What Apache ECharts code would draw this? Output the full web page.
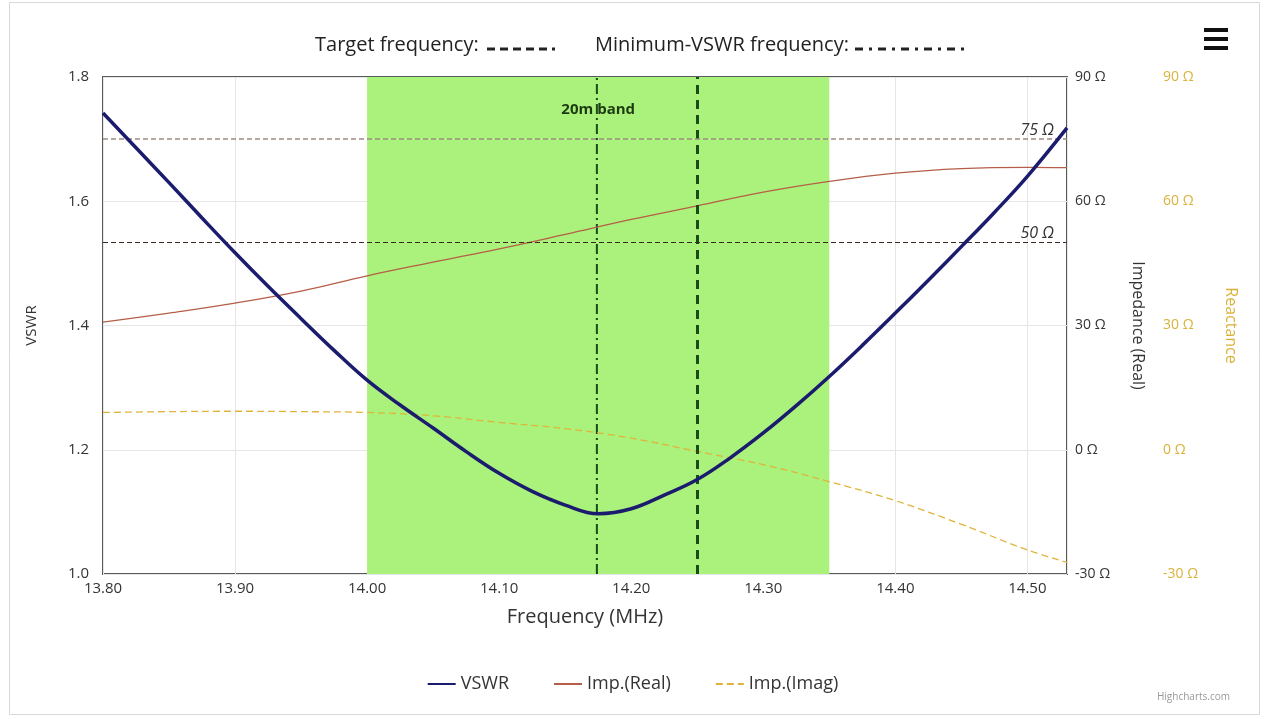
<!DOCTYPE html>
<html><head><meta charset="utf-8">
<script src="https://cdn.jsdelivr.net/npm/echarts@6/dist/echarts.min.js"></script>
<style>html,body{margin:0;padding:0;background:#fff}#c{width:1265px;height:719px}</style>
</head><body><div id="c"></div>
<script>
const freq = [13.80,13.85,13.90,13.95,14.00,14.05,14.10,14.15,14.20,14.25,14.30,14.35,14.40,14.45,14.50,14.53];
const impReal = [30.8,33.0,35.4,38.3,42.0,45.3,48.5,52.0,55.6,58.9,62.2,64.8,66.8,67.9,68.2,68.1];
const impImag = [9.0,9.2,9.3,9.2,9.0,8.2,6.6,5.1,2.8,-0.4,-3.6,-7.7,-12.3,-18.0,-24.2,-27.2];
const vswrFreq = [13.80,13.825,13.85,13.875,13.90,13.925,13.95,13.975,14.00,14.025,14.05,14.075,14.10,14.125,14.15,14.175,14.20,14.225,14.25,14.275,14.30,14.325,14.35,14.375,14.40,14.425,14.45,14.475,14.50,14.53];
const vswr = [1.742,1.686,1.630,1.573,1.517,1.463,1.411,1.360,1.312,1.272,1.235,1.197,1.162,1.133,1.111,1.097,1.105,1.127,1.152,1.187,1.227,1.271,1.318,1.368,1.420,1.473,1.527,1.582,1.640,1.718];
const bandRange = [14.00, 14.35];
const targetFreq = 14.25;
const minVswrFreq = 14.174;
const refImpedances = [75, 50];
const vswrTicks = [1.0, 1.8, 0.2];
const ohmTicks = [-30, 90, 30];

const FONT = 'Open Sans';
const pair = (xs, ys) => xs.map((x, i) => [x, ys[i]]);
const chart = echarts.init(document.getElementById('c'), null, {renderer: 'canvas'});
const ohm = v => v + ' Ω';

chart.setOption({
  animation: false,
  textStyle: {fontFamily: FONT},
  grid: {left: 103, right: 198, top: 77, bottom: 145, show: true, borderColor: '#5a5a5a', borderWidth: 2, backgroundColor: 'transparent'},
  legend: {
    bottom: 21, left: 'center', itemWidth: 28, itemHeight: 10, itemGap: 44,
    itemStyle: {opacity: 0},
    textStyle: {fontSize: 18, color: '#333', fontFamily: FONT},
    data: ['VSWR', 'Imp.(Real)', 'Imp.(Imag)']
  },
  xAxis: {
    type: 'value', min: 13.8, max: 14.53, interval: 0.1,
    name: 'Frequency (MHz)', nameLocation: 'middle', nameGap: 33,
    nameTextStyle: {fontSize: 20, color: '#333'},
    axisLine: {show: false}, axisTick: {show: false},
    axisLabel: {formatter: v => v.toFixed(2), fontSize: 15, color: '#333', margin: 7, showMaxLabel: false},
    splitLine: {show: true, lineStyle: {color: '#e6e6e6', width: 1}}
  },
  yAxis: [
    {
      type: 'value', min: vswrTicks[0], max: vswrTicks[1], interval: vswrTicks[2], position: 'left',
      name: 'VSWR', nameLocation: 'middle', nameGap: 64, nameRotate: 90,
      nameTextStyle: {fontSize: 15, color: '#333'},
      axisLine: {show: false}, axisTick: {show: false},
      axisLabel: {formatter: v => v.toFixed(1), fontSize: 15, color: '#333', margin: 14},
      splitLine: {show: true, lineStyle: {color: '#e6e6e6'}}
    },
    {
      type: 'value', min: ohmTicks[0], max: ohmTicks[1], interval: ohmTicks[2], position: 'right',
      name: 'Impedance (Real)', nameLocation: 'middle', nameGap: 63, nameRotate: -90,
      nameTextStyle: {fontSize: 16, color: '#333'},
      axisLine: {show: false}, axisTick: {show: false},
      axisLabel: {formatter: ohm, fontSize: 14, color: '#333', margin: 8},
      splitLine: {show: false}
    },
    {
      type: 'value', min: ohmTicks[0], max: ohmTicks[1], interval: ohmTicks[2], position: 'right', offset: 88,
      name: 'Reactance', nameLocation: 'middle', nameGap: 68, nameRotate: -90,
      nameTextStyle: {fontSize: 16, color: '#d9b23a'},
      axisLine: {show: false}, axisTick: {show: false},
      axisLabel: {formatter: ohm, fontSize: 14, color: '#d9b23a', margin: 8},
      splitLine: {show: false}
    }
  ],
  series: [
    {
      name: 'VSWR', type: 'line', yAxisIndex: 0, smooth: 0.4, symbol: 'none', z: 5,
      data: pair(vswrFreq, vswr),
      lineStyle: {color: '#1c1c6e', width: 3.5}, itemStyle: {color: '#1c1c6e'},
      markArea: {
        silent: true,
        itemStyle: {color: 'rgb(170,242,124)'},
        label: {show: true, position: 'insideTop', distance: 25, formatter: '20m band', fontSize: 15, fontWeight: 'bold', color: '#1d3a12'},
        data: [[{xAxis: bandRange[0]}, {xAxis: bandRange[1]}]]
      },
      markLine: {
        silent: true, symbol: 'none', label: {show: false},
        data: [
          {xAxis: targetFreq, lineStyle: {color: '#1b4a1b', width: 3, type: [9, 6]}}
        ]
      }
    },
    {
      name: 'minVSWR', type: 'line', yAxisIndex: 0, symbol: 'none', z: 3, silent: true,
      data: [[minVswrFreq, vswrTicks[0]], [minVswrFreq, vswrTicks[1]]],
      lineStyle: {color: '#1b4a1b', width: 2, type: [10, 4, 2, 4]}
    },
    {
      name: 'Imp.(Real)', type: 'line', yAxisIndex: 1, smooth: 0.4, symbol: 'none', z: 4,
      data: pair(freq, impReal),
      lineStyle: {color: '#b65e48', width: 1.3}, itemStyle: {color: '#b65e48'},
      markLine: {
        silent: true, symbol: 'none',
        label: {show: true, position: 'insideEndTop', distance: 1, formatter: p => p.value + ' Ω', fontStyle: 'italic', fontSize: 16, color: '#333', padding: [0, 12, 0, 0]},
        data: [
          {yAxis: refImpedances[0], lineStyle: {color: '#9a8a80', width: 1.5, type: [5, 3]}},
          {yAxis: refImpedances[1], lineStyle: {color: '#3a2a22', width: 1.2, type: [5, 3]}}
        ]
      }
    },
    {
      name: 'Imp.(Imag)', type: 'line', yAxisIndex: 2, smooth: 0.4, symbol: 'none', z: 4,
      data: pair(freq, impImag),
      lineStyle: {color: '#e0b43a', width: 1.3, type: [7, 4]}, itemStyle: {color: '#e0b43a'}
    }
  ],
  graphic: [
    {type: 'rect', left: 7, top: 0, shape: {width: 1250, height: 712}, style: {fill: 'none', stroke: '#d8d8d8', lineWidth: 1}, silent: true, z: -10},
    {type: 'text', left: 315, top: 35, style: {text: 'Target frequency:', font: '20px "Open Sans"', fill: '#222'}},
    {type: 'line', shape: {x1: 487, y1: 49, x2: 555, y2: 49}, style: {stroke: '#222', lineWidth: 3, lineDash: [8, 5]}},
    {type: 'text', left: 595, top: 35, style: {text: 'Minimum-VSWR frequency:', font: '20px "Open Sans"', fill: '#222'}},
    {type: 'line', shape: {x1: 855, y1: 49, x2: 965, y2: 49}, style: {stroke: '#222', lineWidth: 3, lineDash: [8, 6, 3, 6]}},
    {type: 'rect', shape: {x: 1204, y: 28, width: 24, height: 4}, style: {fill: '#111'}},
    {type: 'rect', shape: {x: 1204, y: 37, width: 24, height: 4}, style: {fill: '#111'}},
    {type: 'rect', shape: {x: 1204, y: 46, width: 24, height: 4}, style: {fill: '#111'}},
    {type: 'text', right: 35, top: 692, style: {text: 'Highcharts.com', font: '10px "Open Sans"', fill: '#999'}}
  ]
});
</script></body></html>
